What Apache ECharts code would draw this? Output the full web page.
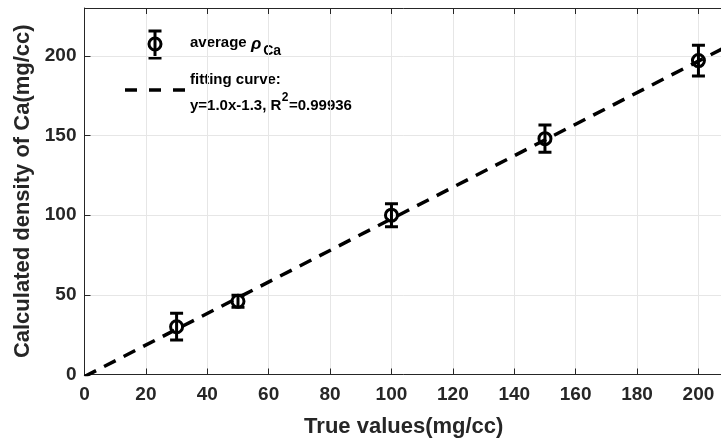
<!DOCTYPE html>
<html>
<head>
<meta charset="utf-8">
<script src="https://cdn.jsdelivr.net/npm/echarts@6/dist/echarts.min.js"></script>
<style>html,body{margin:0;padding:0;background:#fff;overflow:hidden;width:721px;height:444px;}#c{width:723px;height:444px;}</style>
</head>
<body>
<div id="c"></div>
<script>
// Data
const trueValues = [30, 50, 100, 150, 200];
const meanValues = [30, 46, 100, 148, 197];
const errValues  = [8.4, 3.8, 7.2, 8.5, 9.6];
const fitX = [0, 208];
const fitY = [-1.3, 204.6];
const xTicks = [0, 20, 40, 60, 80, 100, 120, 140, 160, 180, 200];
const yTicks = [0, 50, 100, 150, 200];

const FONT = '"Liberation Sans", Arial, Helvetica, sans-serif';
const AX = '#262626';

const errData = trueValues.map((x, i) => [x, meanValues[i] - errValues[i], meanValues[i] + errValues[i], meanValues[i]]);
const fitData = fitX.map((x, i) => [x, fitY[i]]);

const chart = echarts.init(document.getElementById('c'), null, {renderer: 'canvas', width: 723, height: 444});

const mctx = document.createElement('canvas').getContext('2d');
function tw(str, size, style) {
  mctx.font = (style || '') + ' bold ' + size + 'px ' + FONT;
  return mctx.measureText(str).width;
}

function errorBarItem(params, api) {
  const x = api.value(0);
  const pLo = api.coord([x, api.value(1)]);
  const pHi = api.coord([x, api.value(2)]);
  const pM = api.coord([x, api.value(3)]);
  const hw = 6.5;
  const st = {stroke: '#000', lineWidth: 3, fill: null};
  return {
    type: 'group',
    children: [
      {type: 'line', shape: {x1: pLo[0], y1: pLo[1], x2: pHi[0], y2: pHi[1]}, style: st},
      {type: 'line', shape: {x1: pLo[0] - hw, y1: pLo[1], x2: pLo[0] + hw, y2: pLo[1]}, style: st},
      {type: 'line', shape: {x1: pHi[0] - hw, y1: pHi[1], x2: pHi[0] + hw, y2: pHi[1]}, style: st},
      {type: 'circle', shape: {cx: pM[0], cy: pM[1], r: 6}, style: {stroke: '#000', lineWidth: 3, fill: 'none'}}
    ]
  };
}

const LX = 190;
const t1a = 'average ';
const w1a = tw(t1a, 15);
const w1r = tw('ρ', 17, 'italic');
const t3a = 'y=1.0x-1.3, R';
const w3a = tw(t3a, 15);
const w3p = tw('2', 12);

function txt(x, y, s, size, extra) {
  return {type: 'text', x: x, y: y, style: Object.assign({
    text: s, fontFamily: FONT, fontWeight: 'bold', fontSize: size, fill: '#000',
    textVerticalAlign: 'middle', verticalAlign: 'middle', align: 'left'}, extra || {})};
}

const option = {
  backgroundColor: '#fff',
  animation: false,
  grid: {left: 84.5, top: 8, bottom: 69.5, right: 0, containLabel: false, outerBoundsMode: 'none'},
  xAxis: [{
    type: 'value', min: 0, max: 208, interval: 20, position: 'bottom',
    axisLine: {show: true, onZero: false, lineStyle: {color: AX, width: 1}},
    axisTick: {show: true, inside: true, length: 6, lineStyle: {color: AX}},
    axisLabel: {color: AX, fontFamily: FONT, fontWeight: 'bold', fontSize: 19, margin: 11, showMaxLabel: false},
    splitLine: {show: true, lineStyle: {color: '#e6e6e6', width: 1}},
    name: 'True values(mg/cc)', nameLocation: 'middle', nameGap: 52,
    nameTextStyle: {color: AX, fontFamily: FONT, fontWeight: 'bold', fontSize: 22, verticalAlign: 'middle'}
  }, {
    type: 'value', min: 0, max: 208, interval: 20, position: 'top',
    axisLine: {show: true, onZero: false, lineStyle: {color: AX, width: 1}},
    axisTick: {show: true, inside: true, length: 6, lineStyle: {color: AX}},
    axisLabel: {show: false}, splitLine: {show: false}
  }],
  yAxis: [{
    type: 'value', min: 0, max: 230, interval: 50,
    axisLine: {show: true, onZero: false, lineStyle: {color: AX, width: 1}},
    axisTick: {show: true, inside: true, length: 6, lineStyle: {color: AX}},
    axisLabel: {color: AX, fontFamily: FONT, fontWeight: 'bold', fontSize: 19, margin: 8,
      showMaxLabel: false},
    splitLine: {show: true, lineStyle: {color: '#e6e6e6', width: 1}},
    name: 'Calculated density of Ca(mg/cc)', nameLocation: 'middle', nameGap: 54,
    nameTextStyle: {color: AX, fontFamily: FONT, fontWeight: 'bold', fontSize: 22, verticalAlign: 'middle'}
  }],
  series: [{
    name: 'fitting curve',
    type: 'line', data: fitData, showSymbol: false, symbol: 'none', clip: true,
    lineStyle: {color: '#000', width: 3.5, type: [13, 9]}, z: 3
  }, {
    name: 'average',
    type: 'custom', data: errData, renderItem: errorBarItem, clip: true, z: 4,
    encode: {x: 0, y: [1, 2]}
  }],
  graphic: [
    {type: 'line', shape: {x1: 155, y1: 31, x2: 155, y2: 58}, style: {stroke: '#000', lineWidth: 3}},
    {type: 'line', shape: {x1: 148.5, y1: 31, x2: 161.5, y2: 31}, style: {stroke: '#000', lineWidth: 3}},
    {type: 'line', shape: {x1: 148.5, y1: 58, x2: 161.5, y2: 58}, style: {stroke: '#000', lineWidth: 3}},
    {type: 'circle', shape: {cx: 155, cy: 44, r: 6}, style: {stroke: '#000', lineWidth: 3, fill: 'none'}},
    {type: 'line', shape: {x1: 125, y1: 90, x2: 187, y2: 90}, style: {stroke: '#000', lineWidth: 3.5, lineDash: [12, 12]}},
    txt(LX, 43, t1a, 15),
    txt(LX + w1a, 44, 'ρ', 17, {fontStyle: 'italic'}),
    txt(LX + w1a + w1r + 2, 51, 'Ca', 14),
    txt(LX, 80, 'fitting curve:', 15),
    txt(LX, 106, t3a, 15),
    txt(LX + w3a + 0.5, 98, '2', 12),
    txt(LX + w3a + w3p + 1, 106, '=0.99936', 15)
  ]
};
chart.setOption(option);
</script>
</body>
</html>
